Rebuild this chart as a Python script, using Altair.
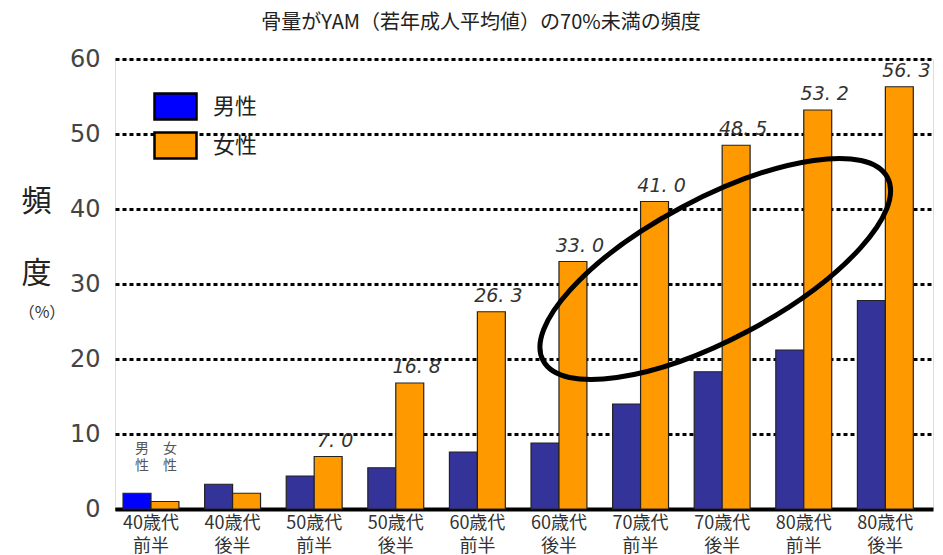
import altair as alt
import pandas as pd

# ---- data ----
ages = ["40歳代前半", "40歳代後半", "50歳代前半", "50歳代後半", "60歳代前半",
        "60歳代後半", "70歳代前半", "70歳代後半", "80歳代前半", "80歳代後半"]
male = [2.1, 3.3, 4.4, 5.5, 7.6, 8.8, 14.0, 18.3, 21.2, 27.8]
female = [1.0, 2.1, 7.0, 16.8, 26.3, 33.0, 41.0, 48.5, 53.2, 56.3]
female_labels = ["", "", "7. 0", "16. 8", "26. 3", "33. 0", "41. 0", "48. 5", "53. 2", "56. 3"]
sexes = ["男性", "女性"]
legend_colors = ["#0000FF", "#FF9900"]
male_bar_color = "#333399"
y_ticks = [0, 10, 20, 30, 40, 50, 60]
small_marks = ["男\n性", "女\n性"]
chart_title = "骨量がYAM（若年成人平均値）の70%未満の頻度"

FONT_JP = "Noto Sans CJK JP"

bars_df = pd.DataFrame({
    "age": ages * 2,
    "sex": [sexes[0]] * len(ages) + [sexes[1]] * len(ages),
    "value": male + female,
})
labels_df = pd.DataFrame({"age": ages, "sex": sexes[1], "value": female, "label": female_labels})
labels_df = labels_df[labels_df["label"] != ""]
small_df = pd.DataFrame({"age": [ages[0]] * 2, "sex": sexes, "text": small_marks})
one_df = pd.DataFrame({"k": [0]})

x_enc = alt.X(
    "age:N", sort=ages, title=None,
    scale=alt.Scale(domain=ages, paddingInner=0.315, paddingOuter=0.17, align=0.29),
    axis=alt.Axis(
        labelExpr="[substring(datum.label,0,4), substring(datum.label,4)]",
        labelAngle=0, labelFont=FONT_JP, labelFontSize=18, labelColor="#333",
        labelLineHeight=23, labelPadding=5, labelBaseline="top",
        ticks=False, domainColor="black", domainWidth=4, grid=False,
    ),
)
xo_enc = alt.XOffset("sex:N", sort=sexes,
                     scale=alt.Scale(domain=sexes, paddingInner=0, paddingOuter=0))
y_enc = alt.Y(
    "value:Q",
    scale=alt.Scale(domain=[0, 60], nice=False),
    axis=alt.Axis(
        values=y_ticks, domain=False, ticks=False,
        labelFont="DejaVu Sans", labelFontSize=24, labelColor="#444", labelPadding=15,
        gridColor="black", gridDash=[4, 3], gridWidth=3, gridOpacity=1,
        title=["頻", "度"], titleAngle=0, titleFont=FONT_JP, titleFontSize=30,
        titleFontWeight="normal", titleColor="#222", titleLineHeight=72,
        titleX=-79, titleY=127, titleAlign="center", titleBaseline="top",
    ),
)

fill_enc = alt.condition(
    (alt.datum.sex == sexes[0]) & (alt.datum.age != ages[0]),
    alt.value(male_bar_color),
    alt.Fill(
        "sex:N",
        scale=alt.Scale(domain=sexes, range=legend_colors),
        legend=alt.Legend(
            title=None, orient="none", legendX=43, legendY=30, padding=0,
            symbolType="M-1.3125,-0.8125H1.3125V0.8125H-1.3125Z", symbolSize=1024,
            symbolStrokeColor="black", symbolStrokeWidth=2.5, symbolOpacity=1,
            labelFont=FONT_JP, labelFontSize=22, labelColor="#222",
            labelOffset=20, rowPadding=2,
        ),
    ),
)

bars = alt.Chart(bars_df).mark_bar(stroke="#222", strokeWidth=1.2).encode(
    x=x_enc, xOffset=xo_enc, y=y_enc, fill=fill_enc
)

value_text = alt.Chart(labels_df).mark_text(
    font="DejaVu Sans", fontStyle="italic", fontSize=19, color="#333",
    dy=-16, dx=7, baseline="middle",
).encode(x=alt.X("age:N", sort=ages), xOffset=alt.XOffset("sex:N", sort=sexes),
         y="value:Q", text="label:N")

small_text = alt.Chart(small_df).mark_text(
    font=FONT_JP, fontSize=14, color="#555", lineBreak="\n", lineHeight=17, dx=5,
).encode(x=alt.X("age:N", sort=ages), xOffset=alt.XOffset("sex:N", sort=sexes),
         y=alt.datum(8.0), text="text:N")

pct_text = alt.Chart(one_df).mark_text(
    font=FONT_JP, fontSize=16, color="#333",
).encode(x=alt.value(-73), y=alt.value(254), text=alt.value("（%）"))

ellipse = alt.Chart(one_df).mark_point(
    shape="M-0.968,0.017A1,0.36,0,1,0,1.032,0.017A1,0.36,0,1,0,-0.968,0.017Z",
    size=152100, angle=332, filled=False, color="black",
    strokeWidth=5, opacity=1,
).encode(x=alt.datum(ages[7]), xOffset=alt.datum(sexes[0]), y=alt.datum(32))

chart = alt.layer(bars, value_text, small_text, pct_text, ellipse).properties(
    width=818, height=450,
    padding={"left": 107, "top": 51, "right": 2, "bottom": 47},
    autosize=alt.AutoSizeParams(type="none"),
    title=alt.TitleParams(
        text=chart_title, font=FONT_JP, fontSize=20, fontWeight="normal",
        color="#222", anchor="middle", dx=-43, offset=14,
    ),
).configure_view(strokeWidth=0).configure(background="white")

chart.save("out.html", embed_options={"renderer": "svg", "actions": False})
